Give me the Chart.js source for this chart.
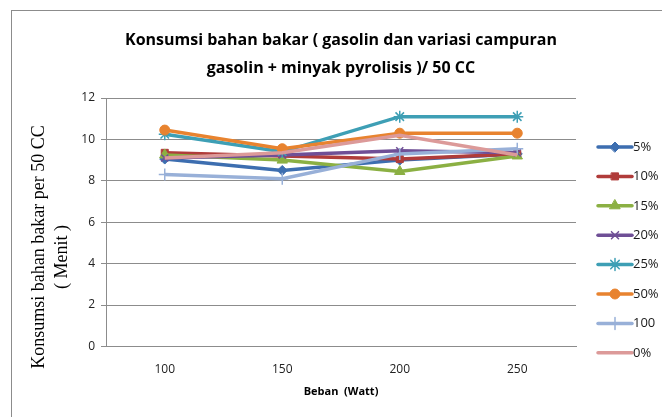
<!DOCTYPE html>
<html>
<head>
<meta charset="utf-8">
<script src="https://cdn.jsdelivr.net/npm/chart.js@4/dist/chart.umd.min.js"></script>
<style>
  html, body { margin: 0; padding: 0; background: #fff; overflow: hidden; }
  #wrap { position: relative; width: 662px; height: 417px; }
  #frame { position: absolute; left: 11px; top: 10px; width: 700px; height: 500px; border: 1px solid #8c8c8c; pointer-events: none; }
  canvas { position: absolute; left: 0; top: 0; }
</style>
</head>
<body>
<div id="wrap">
  <canvas id="chart" width="662" height="417"></canvas>
  <div id="frame"></div>
</div>
<script>
// categories (Beban, Watt)
const categories = ["100", "150", "200", "250"];
const seriesNames = ["5%", "10%", "15%", "20%", "25%", "50%", "100", "0%"];

// series values
const s5 = [9.05, 8.5, 9.0, 9.3];
const s10 = [9.35, 9.2, 9.05, 9.3];
const s15 = [9.25, 9.0, 8.45, 9.2];
const s20 = [9.1, 9.25, 9.45, 9.35];
const s25 = [10.25, 9.4, 11.1, 11.1];
const s50 = [10.45, 9.55, 10.3, 10.3];
const s100 = [8.3, 8.1, 9.3, 9.55];
const s0 = [9.1, 9.35, 10.2, 9.25];

const yTicks = [0, 2, 4, 6, 8, 10, 12];
const yTitle = ["Konsumsi bahan bakar per 50 CC", "( Menit )"];

const values = [s5, s10, s15, s20, s25, s50, s100, s0];
const colors = ["#3d6eb0", "#b03c3a", "#8bb043", "#6f4f96", "#3e9fb5", "#e8832f", "#98b0d8", "#dc9a99"];
const markers = ["rectRot", "rect", "triangle", "crossRot", "star", "circle", "cross", false];
const markerSize = [5, 5, 6, 5, 6, 5, 6, 0];

const datasets = values.map((v, i) => ({
  label: seriesNames[i],
  data: v,
  borderColor: colors[i],
  backgroundColor: colors[i],
  borderWidth: 3.5,
  pointStyle: markers[i],
  pointRadius: markerSize[i],
  pointBorderWidth: markers[i] === "crossRot" || markers[i] === "star" || markers[i] === "cross" ? 1.5 : 1,
  tension: 0,
  order: values.length - i,
}));

// legend drawn at the right, line sample with marker in the middle
const sideLegend = {
  id: "sideLegend",
  afterDraw(chart) {
    const ctx = chart.ctx;
    const x0 = 598, x1 = 632, yStart = 147, step = 29.4;
    chart.data.datasets.forEach((ds, i) => {
      const y = yStart + i * step;
      ctx.save();
      ctx.strokeStyle = ds.borderColor;
      ctx.lineWidth = 3.5;
      ctx.lineCap = "round";
      ctx.beginPath();
      ctx.moveTo(x0, y);
      ctx.lineTo(x1, y);
      ctx.stroke();
      if (ds.pointStyle) {
        ctx.lineWidth = ds.pointBorderWidth;
        ctx.fillStyle = ds.backgroundColor;
        ctx.strokeStyle = ds.borderColor;
        Chart.helpers.drawPoint(ctx, { pointStyle: ds.pointStyle, radius: ds.pointRadius, borderWidth: ds.pointBorderWidth, rotation: 0 }, (x0 + x1) / 2, y);
      }
      ctx.fillStyle = "#1a1a1a";
      ctx.font = "13px 'Open Sans'";
      ctx.textBaseline = "middle";
      ctx.fillText(ds.label, x1 + 1, y);
      ctx.restore();
    });
  }
};

// vertical axis title, sits a bit below the middle like the original
const sideTitle = {
  id: "sideTitle",
  afterDraw(chart) {
    const ctx = chart.ctx;
    ctx.save();
    ctx.translate(39, 247);
    ctx.rotate(-Math.PI / 2);
    ctx.fillStyle = "#000";
    ctx.font = "18px 'Liberation Serif'";
    ctx.textAlign = "center";
    ctx.textBaseline = "middle";
    ctx.fillText(yTitle[0], 0, 0);
    ctx.fillText(yTitle[1], -10, 23);
    ctx.restore();
  }
};

new Chart(document.getElementById("chart"), {
  type: "line",
  data: { labels: categories, datasets },
  plugins: [sideLegend, sideTitle],
  options: {
    responsive: false,
    animation: false,
    layout: { padding: { left: 20, right: 86, top: 0, bottom: 19 } },
    plugins: {
      legend: { display: false },
      tooltip: { enabled: false },
      title: {
        display: true,
        fullSize: false,
        text: ["Konsumsi bahan bakar ( gasolin dan variasi campuran", "gasolin + minyak pyrolisis )/ 50 CC"],
        color: "#000",
        font: { family: "'Open Sans'", size: 16, weight: "bold", lineHeight: 1.75 },
        padding: { top: 26, bottom: 16 },
      },
    },
    scales: {
      x: {
        offset: true,
        grid: { display: false },
        border: { display: true, color: "#8c8c8c" },
        ticks: { color: "#222", font: { family: "'Open Sans'", size: 12 }, padding: 8 },
        title: {
          display: true,
          text: "Beban  (Watt)",
          color: "#000",
          font: { family: "'Open Sans'", size: 11, weight: "bold" },
          padding: { top: 0, bottom: 0 },
        },
      },
      y: {
        min: 0,
        max: 12,
        afterBuildTicks(axis) { axis.ticks = yTicks.map(v => ({ value: v })); },
        afterFit(axis) { axis.width = 86; },
        grid: { color: "#8c8c8c", lineWidth: 1, tickLength: 5 },
        border: { display: true, color: "#8c8c8c" },
        ticks: { color: "#222", font: { family: "'Open Sans'", size: 12 }, padding: 6 },
      },
    },
  },
});
</script>
</body>
</html>
